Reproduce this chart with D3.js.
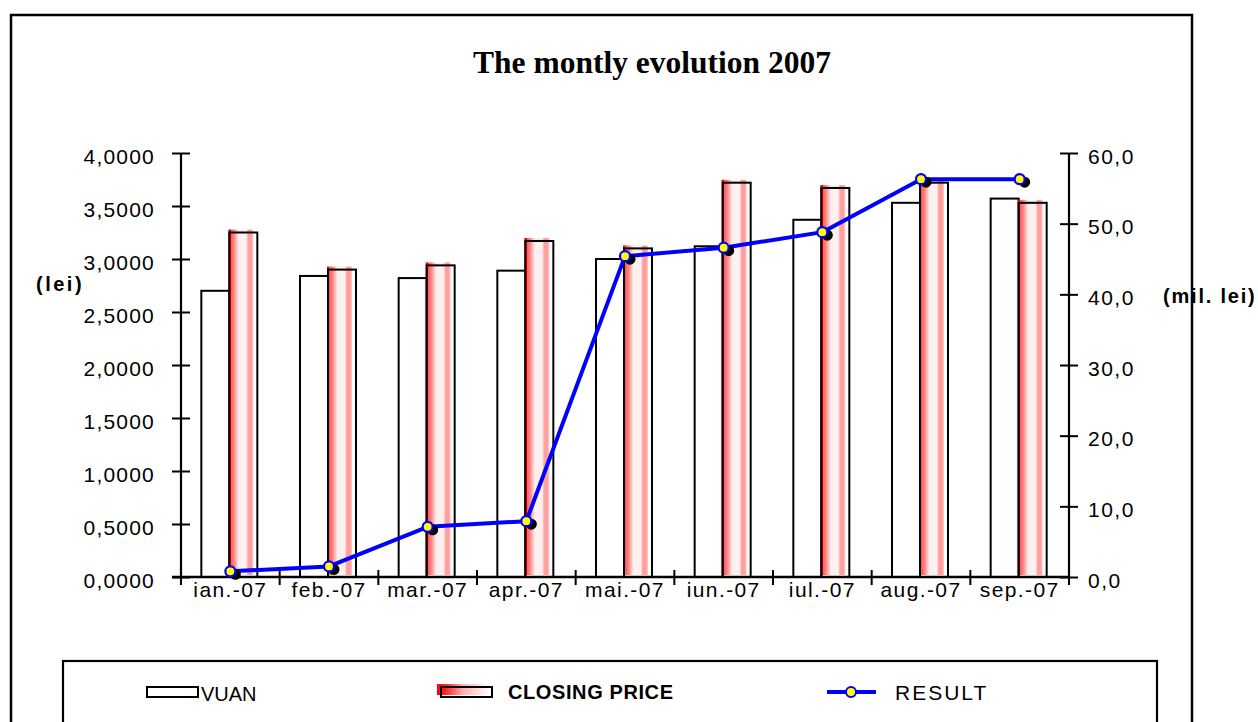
<!DOCTYPE html>
<html>
<head>
<meta charset="utf-8">
<script src="https://cdn.jsdelivr.net/npm/d3@7"></script>
<style>
  html, body { margin: 0; padding: 0; background: #fff; }
  svg { display: block; }
  text { font-family: "Liberation Sans", Arial, sans-serif; fill: #000; }
</style>
</head>
<body>
<svg id="chart" width="1258" height="722"></svg>
<script>
// ---- data ----
const categories = ["ian.-07", "feb.-07", "mar.-07", "apr.-07", "mai.-07", "iun.-07", "iul.-07", "aug.-07", "sep.-07"];
const vuan = [2.70, 2.84, 2.82, 2.89, 3.00, 3.12, 3.37, 3.53, 3.57];
const closingPrice = [3.25, 2.90, 2.94, 3.17, 3.10, 3.72, 3.67, 3.72, 3.53];
const result = [0.8, 1.5, 7.1, 7.9, 45.4, 46.6, 48.8, 56.3, 56.3];
const leftTicks = [0, 0.5, 1.0, 1.5, 2.0, 2.5, 3.0, 3.5, 4.0];
const rightTicks = [0, 10, 20, 30, 40, 50, 60];
const seriesNames = ["VUAN", "CLOSING PRICE", "RESULT"];
const titleText = "The montly evolution 2007";
const leftLabel = "(lei)";
const rightLabel = "(mil. lei)";

// ---- setup ----
const svg = d3.select("#chart");
const plot = { left: 181, right: 1069, top: 153, bottom: 577 };

const defs = svg.append("defs");
const grad = defs.append("linearGradient").attr("id", "cpGrad")
  .attr("x1", "0").attr("x2", "1").attr("y1", "0").attr("y2", "0");
[
  [0, "#ff0000"], [0.09, "#ff0000"], [0.1, "#ff5a5a"], [0.24, "#ff8a8a"],
  [0.34, "#ffc4c4"], [0.42, "#fff0f0"], [0.72, "#fff0f0"], [0.78, "#ffa6a6"],
  [0.9, "#ff9a9a"], [1, "#ffc8c8"]
].forEach(([o, c]) => grad.append("stop").attr("offset", o).attr("stop-color", c));

const legGrad = defs.append("linearGradient").attr("id", "legGrad")
  .attr("x1", "0").attr("x2", "1").attr("y1", "0").attr("y2", "0");
[[0, "#ff0000"], [0.15, "#ff2020"], [0.5, "#ffb0b0"], [1, "#ffffff"]]
  .forEach(([o, c]) => legGrad.append("stop").attr("offset", o).attr("stop-color", c));

// outer frame
svg.append("rect").attr("x", 11).attr("y", 15).attr("width", 1181).attr("height", 800)
  .attr("fill", "none").attr("stroke", "#000").attr("stroke-width", 2.5);

// title
svg.append("text").attr("x", 652).attr("y", 73).attr("text-anchor", "middle")
  .style("font-family", "'Liberation Serif', 'Times New Roman', serif")
  .style("font-weight", "bold").style("font-size", "31.5px").text(titleText);

// scales
const x = d3.scaleBand().domain(categories).range([plot.left, plot.right]).padding(0);
const xSub = d3.scaleBand().domain(["VUAN", "CLOSING PRICE"]).range([-29, 27]).padding(0);
const yL = d3.scaleLinear().domain([0, 4]).range([plot.bottom, plot.top]);
const yR = d3.scaleLinear().domain([0, 60]).range([plot.bottom, plot.top]);
const cx = c => x(c) + x.bandwidth() / 2;
const commaFmt = f => v => d3.format(f)(v).replace(".", ",");

// bars: VUAN
const bw = xSub.bandwidth();
svg.append("g").selectAll("rect").data(categories).join("rect")
  .attr("x", (c) => cx(c) + xSub("VUAN"))
  .attr("y", (c, i) => yL(vuan[i]))
  .attr("width", bw)
  .attr("height", (c, i) => yL(0) - yL(vuan[i]))
  .attr("fill", "#fff").attr("stroke", "#000").attr("stroke-width", 2);

// bars: CLOSING PRICE (fill shifted up-left, outline on top)
const cp = svg.append("g");
cp.selectAll("rect.fill").data(categories).join("rect").attr("class", "fill")
  .attr("x", (c) => cx(c) + xSub("CLOSING PRICE") - 1)
  .attr("y", (c, i) => yL(closingPrice[i]) - 3)
  .attr("width", bw - 3)
  .attr("height", (c, i) => yL(0) - yL(closingPrice[i]) + 1)
  .attr("fill", "url(#cpGrad)");
cp.selectAll("rect.out").data(categories).join("rect").attr("class", "out")
  .attr("x", (c) => cx(c) + xSub("CLOSING PRICE"))
  .attr("y", (c, i) => yL(closingPrice[i]))
  .attr("width", bw)
  .attr("height", (c, i) => yL(0) - yL(closingPrice[i]))
  .attr("fill", "none").attr("stroke", "#000").attr("stroke-width", 2);

// left axis
const axL = svg.append("g").attr("transform", `translate(${plot.left},0)`)
  .call(d3.axisLeft(yL).tickValues(leftTicks).tickFormat(commaFmt(".4f")).tickSize(9).tickPadding(17));
axL.select(".domain").attr("stroke", "#000").attr("stroke-width", 2.2).attr("d", `M0,${plot.top}V${plot.bottom}`);
axL.selectAll(".tick line").attr("x1", 9).attr("stroke", "#000").attr("stroke-width", 2);
axL.selectAll(".tick text").attr("dy", "0.48em").style("font-size", "21px")
  .style("letter-spacing", "1.2px").style("font-family", "'Liberation Sans', Arial, sans-serif").attr("fill", "#000");

// right axis
const axR = svg.append("g").attr("transform", `translate(${plot.right},0)`)
  .call(d3.axisRight(yR).tickValues(rightTicks).tickFormat(commaFmt(".1f")).tickSize(9).tickPadding(10));
axR.select(".domain").attr("stroke", "#000").attr("stroke-width", 2.2).attr("d", `M0,${plot.top}V${plot.bottom}`);
axR.selectAll(".tick line").attr("x1", -9).attr("stroke", "#000").attr("stroke-width", 2);
axR.selectAll(".tick text").attr("dy", "0.48em").style("font-size", "21px")
  .style("letter-spacing", "1.5px").style("font-family", "'Liberation Sans', Arial, sans-serif").attr("fill", "#000");

// bottom axis: labels from the band scale, boundary ticks
const axB = svg.append("g").attr("transform", `translate(0,${plot.bottom})`)
  .call(d3.axisBottom(x).tickSize(0).tickPadding(5));
axB.select(".domain").attr("stroke", "#000").attr("stroke-width", 2.5)
  .attr("d", `M${plot.left - 9},0H${plot.right}`);
axB.selectAll(".tick text").style("font-size", "21px").style("letter-spacing", "1.4px")
  .style("font-family", "'Liberation Sans', Arial, sans-serif").attr("fill", "#000");
const boundaries = categories.map(c => x(c)).concat([x(categories[categories.length - 1]) + x.bandwidth()]);
axB.selectAll("line.bt").data(boundaries).join("line").attr("class", "bt")
  .attr("x1", d => d).attr("x2", d => d).attr("y1", -7).attr("y2", 8)
  .attr("stroke", "#000").attr("stroke-width", 2);

// axis titles
svg.append("text").attr("x", 36).attr("y", 291).style("font-weight", "bold")
  .style("font-size", "20px").style("letter-spacing", "2.5px").text(leftLabel);
svg.append("text").attr("x", 1163).attr("y", 303).style("font-weight", "bold")
  .style("font-size", "20px").style("letter-spacing", "1.8px").text(rightLabel);

// RESULT line
const line = d3.line().x((d, i) => cx(categories[i])).y(d => yR(d));
svg.append("path").datum(result).attr("d", line)
  .attr("fill", "none").attr("stroke", "#0000ff").attr("stroke-width", 4).attr("stroke-linejoin", "round");
svg.append("g").selectAll("circle").data(result).join("circle")
  .attr("cx", (d, i) => cx(categories[i]) + 5).attr("cy", d => yR(d) + 3).attr("r", 5.5).attr("fill", "#000");
svg.append("g").selectAll("circle").data(result).join("circle")
  .attr("cx", (d, i) => cx(categories[i])).attr("cy", d => yR(d)).attr("r", 5)
  .attr("fill", "#ffff00").attr("stroke", "#0000ff").attr("stroke-width", 2.2);

// legend
const leg = svg.append("g");
leg.append("rect").attr("x", 63).attr("y", 661).attr("width", 1094).attr("height", 120)
  .attr("fill", "none").attr("stroke", "#000").attr("stroke-width", 2.2);
// VUAN
leg.append("rect").attr("x", 147).attr("y", 687).attr("width", 51).attr("height", 10)
  .attr("fill", "#fff").attr("stroke", "#000").attr("stroke-width", 2);
leg.append("text").attr("x", 201).attr("y", 701).style("font-size", "20px").text(seriesNames[0]);
// CLOSING PRICE
leg.append("rect").attr("x", 437).attr("y", 684).attr("width", 52).attr("height", 11).attr("fill", "url(#legGrad)");
leg.append("rect").attr("x", 441).attr("y", 687).attr("width", 51).attr("height", 10)
  .attr("fill", "none").attr("stroke", "#000").attr("stroke-width", 2);
leg.append("text").attr("x", 508).attr("y", 699).style("font-size", "20px").style("font-weight", "bold")
  .style("letter-spacing", "0.6px").text(seriesNames[1]);
// RESULT
leg.append("line").attr("x1", 827).attr("x2", 876).attr("y1", 692).attr("y2", 692)
  .attr("stroke", "#0000ff").attr("stroke-width", 4);
leg.append("circle").attr("cx", 851).attr("cy", 692).attr("r", 5)
  .attr("fill", "#ffff00").attr("stroke", "#0000ff").attr("stroke-width", 2);
leg.append("text").attr("x", 895).attr("y", 700).style("font-size", "21px")
  .style("letter-spacing", "2px").text(seriesNames[2]);
</script>
</body>
</html>
